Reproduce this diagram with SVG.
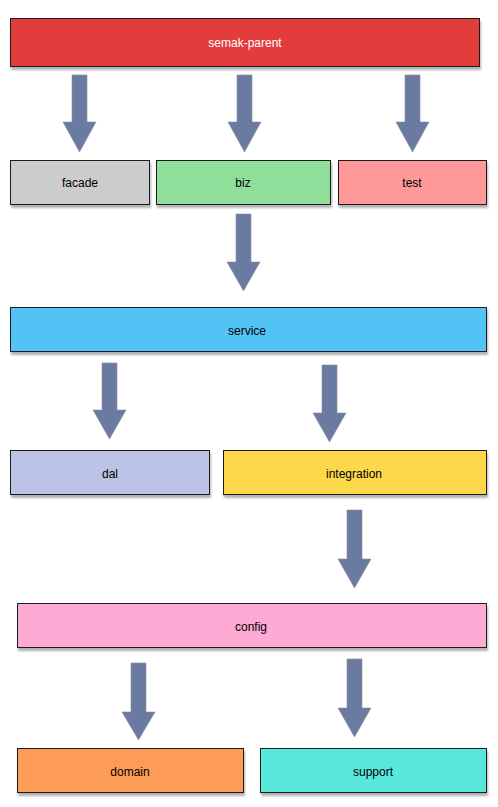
<svg xmlns="http://www.w3.org/2000/svg" width="498" height="807" viewBox="0 0 498 807">
<defs>
<filter id="sh" x="-5%" y="-20%" width="110%" height="160%">
<feDropShadow dx="1" dy="3" stdDeviation="1.2" flood-color="#000" flood-opacity="0.3"/>
</filter>
</defs>
<style>
.n rect{stroke:#1a1a1a;stroke-width:1;filter:url(#sh)}
.n text{font-family:"Liberation Sans",Arial,sans-serif;font-size:12px;fill:#000;text-anchor:middle;dominant-baseline:central}
.a path{fill:#6a7aa1;stroke:#8a8f9a;stroke-width:0.6}
</style>
<rect width="498" height="807" fill="#fff"/>
<g id="semak-parent" class="n"><rect x="10.5" y="18.5" width="469" height="48" fill="#e23c3c"/><text x="245" y="43" style="fill:#fff">semak-parent</text></g>
<g id="facade" class="n"><rect x="10.5" y="160.5" width="139" height="44" fill="#cccccc"/><text x="80" y="183">facade</text></g>
<g id="biz" class="n"><rect x="156.5" y="160.5" width="174" height="44" fill="#8fdf9b"/><text x="243" y="183">biz</text></g>
<g id="test" class="n"><rect x="338.5" y="160.5" width="148" height="44" fill="#ff9999"/><text x="412" y="183">test</text></g>
<g id="service" class="n"><rect x="10.5" y="307.5" width="476" height="44" fill="#53c3f5"/><text x="247" y="331">service</text></g>
<g id="dal" class="n"><rect x="10.5" y="450.5" width="199" height="44" fill="#bbc3e6"/><text x="110" y="474">dal</text></g>
<g id="integration" class="n"><rect x="223.5" y="450.5" width="263" height="44" fill="#fdd84c"/><text x="354" y="474">integration</text></g>
<g id="config" class="n"><rect x="17.5" y="603.5" width="469" height="44" fill="#fdaad4"/><text x="251" y="627">config</text></g>
<g id="domain" class="n"><rect x="17.5" y="748.5" width="226" height="44" fill="#fd9b58"/><text x="130" y="772">domain</text></g>
<g id="support" class="n"><rect x="260.5" y="748.5" width="226" height="44" fill="#58e8db"/><text x="373" y="772">support</text></g>
<g id="connectors" class="a">
<path d="M72,75 H87 V122 H96 L79.5,152 L63,122 H72 Z"/>
<path d="M237,75 H252 V122 H261 L244.5,152 L228,122 H237 Z"/>
<path d="M405,75 H420 V122 H429 L412.5,152 L396,122 H405 Z"/>
<path d="M236,214 H251 V262 H260 L243.5,291 L227,262 H236 Z"/>
<path d="M102,363 H117 V410 H126 L109.5,439 L93,410 H102 Z"/>
<path d="M322,365 H337 V413 H346 L329.5,442 L313,413 H322 Z"/>
<path d="M347,510 H362 V559 H371 L354.5,588 L338,559 H347 Z"/>
<path d="M131,663 H146 V712 H155 L138.5,740 L122,712 H131 Z"/>
<path d="M347,659 H362 V708 H371 L354.5,737 L338,708 H347 Z"/>
</g>
</svg>
